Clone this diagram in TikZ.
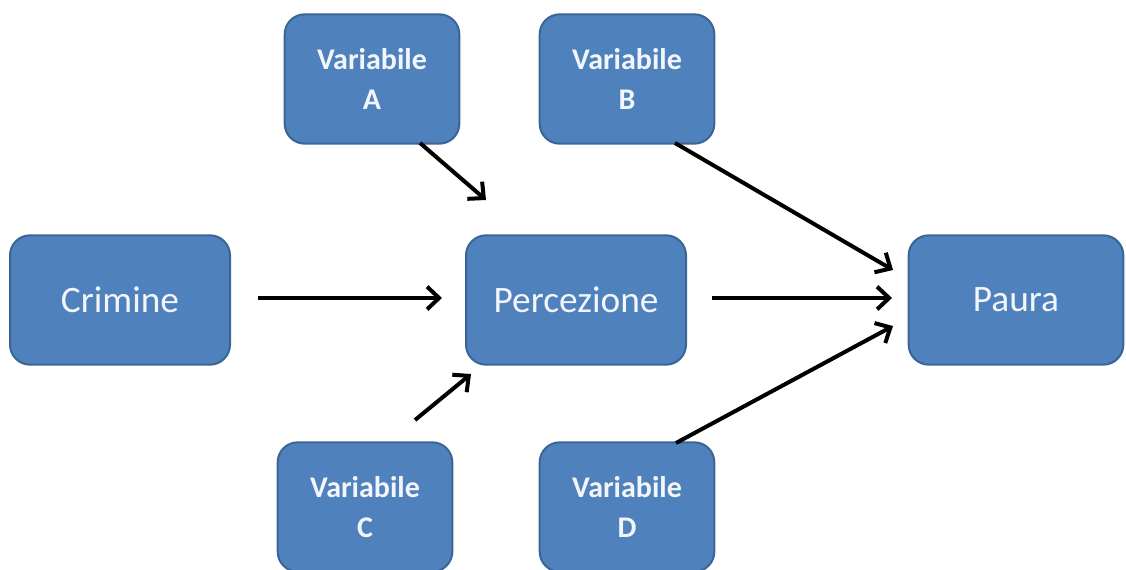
\documentclass[tikz,border=0pt]{standalone}
\usepackage{fontspec}
\setmainfont{Carlito}
\usetikzlibrary{arrows.meta}
\definecolor{boxfill}{HTML}{4F81BD}
\definecolor{boxline}{HTML}{3A6596}
\definecolor{boxtext}{HTML}{F2F6FB}
\tikzset{
  box/.style={draw=boxline, line width=1.5pt, fill=boxfill, rounded corners=15pt,
    text=boxtext, align=center, inner sep=0pt},
  bigbox/.style={box, minimum width=165pt, minimum height=97pt, font=\fontsize{28}{32}\selectfont},
  varbox/.style={box, minimum width=131pt, minimum height=97pt, font=\fontsize{22.5}{30}\selectfont\bfseries},
  link/.style={line width=3pt, -{Straight Barb[length=9pt,width=17pt,line width=3pt]}}
}
\begin{document}
\begin{tikzpicture}[x=0.75pt,y=-0.75pt]
  \useasboundingbox (0,0) rectangle (1126,570);
  % main chain
  \node[bigbox] (crim) at (120,300) {Crimine};
  \node[bigbox] (perc) at (576,300) {Percezione};
  \node[bigbox, minimum width=161pt] (paura) at (1016,300) {Paura};
  % moderating variables
  \node[varbox] (va) at (372,79) {Variabile\\A};
  \node[varbox] (vb) at (627,79) {Variabile\\B};
  \node[varbox] (vc) at (365,507) {Variabile\\C};
  \node[varbox] (vd) at (627,507) {Variabile\\D};
  % arrow end points
  \coordinate (a1) at (258,298);
  \coordinate (a2) at (442,298);
  \coordinate (p1) at (712,298);
  \coordinate (p2) at (892,298);
  \coordinate (va1) at (420,143);
  \coordinate (va2) at (486,200);
  \coordinate (vb1) at (675,143);
  \coordinate (vb2) at (893,270);
  \coordinate (vc1) at (415,420);
  \coordinate (vc2) at (471,374);
  \coordinate (vd1) at (676,443);
  \coordinate (vd2) at (893,326);
  % connectors
  \draw[link] (a1) -- (a2);
  \draw[link] (p1) -- (p2);
  \draw[link] (va1) -- (va2);
  \draw[link] (vb1) -- (vb2);
  \draw[link] (vc1) -- (vc2);
  \draw[link] (vd1) -- (vd2);
\end{tikzpicture}
\end{document}
